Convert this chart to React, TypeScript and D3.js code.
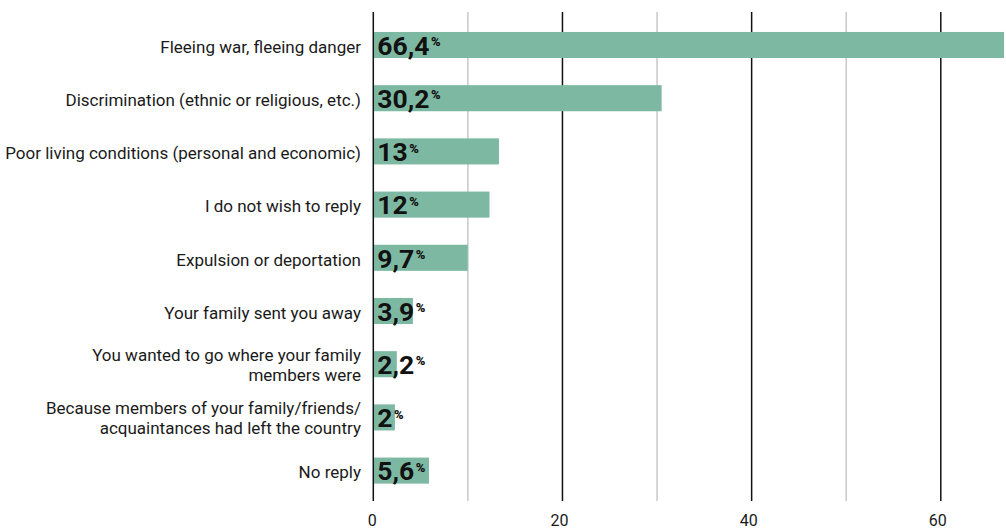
import React from "react";
import * as d3 from "d3";

const categories: string[][] = [
  ["Fleeing war, fleeing danger"],
  ["Discrimination (ethnic or religious, etc.)"],
  ["Poor living conditions (personal and economic)"],
  ["I do not wish to reply"],
  ["Expulsion or deportation"],
  ["Your family sent you away"],
  ["You wanted to go where your family", "members were"],
  ["Because members of your family/friends/", "acquaintances had left the country"],
  ["No reply"],
];
const values: number[] = [66.4, 30.2, 13, 12, 9.7, 3.9, 2.2, 2, 5.6];
const valueLabels: string[] = ["66,4", "30,2", "13", "12", "9,7", "3,9", "2,2", "2", "5,6"];
const majorTicks: number[] = [0, 20, 40, 60];
const minorTicks: number[] = [10, 30, 50];

const W = 1006;
const H = 528;
const BAR = "#7db8a2";
const TEXT = "#1a1a1a";

export default function App() {
  const x = d3.scaleLinear().domain([0, 60]).range([373.3, 940.8]);
  const y = d3
    .scaleBand<number>()
    .domain(values.map((_, i) => i))
    .range([18.4, 497.2])
    .paddingInner(0.51)
    .paddingOuter(0.255);
  const bw = y.bandwidth();
  const font = "Roboto, 'Open Sans', sans-serif";

  return (
    <svg
      width={W}
      height={H}
      style={{ position: "absolute", left: 0, top: 0, display: "block", background: "#fff" }}
      fontFamily={font}
    >
      {minorTicks.map((t) => (
        <line key={"mn" + t} x1={x(t)} x2={x(t)} y1={12} y2={501} stroke="#c8c8c8" strokeWidth={1.5} />
      ))}
      {majorTicks.map((t) => (
        <line key={"mj" + t} x1={x(t)} x2={x(t)} y1={12} y2={501} stroke="#111" strokeWidth={1.5} />
      ))}
      {values.map((v, i) => (
        <rect
          key={"b" + i}
          x={x(0) + 0.7}
          y={y(i)!}
          width={x(v) - x(0) + 2}
          height={bw}
          fill={BAR}
        />
      ))}
      {values.map((v, i) => {
        const cy = y(i)! + bw / 2;
        return (
          <text key={"v" + i} x={x(0) + 4} y={cy + 9.7} fill="#111" fontWeight={700} fontSize={26.5}>
            {valueLabels[i]}
            <tspan fontSize={13} fontWeight={900} dy={-8.6} dx={1.5}>%</tspan>
          </text>
        );
      })}
      {categories.map((lines, i) => {
        const cy = y(i)! + bw / 2;
        const lh = 20;
        const off = lines.length > 1 ? 6.5 : 7.8;
        const start = cy - ((lines.length - 1) * lh) / 2;
        return (
          <text key={"c" + i} textAnchor="end" fill={TEXT} fontSize={17}>
            {lines.map((l, j) => (
              <tspan key={j} x={361} y={start + j * lh + off}>
                {l}
              </tspan>
            ))}
          </text>
        );
      })}
      {majorTicks.map((t) => (
        <text key={"tl" + t} x={x(t) - (t === 0 ? 1 : 3)} y={525.5} textAnchor="middle" fill={TEXT} fontSize={16}>
          {t}
        </text>
      ))}
    </svg>
  );
}
